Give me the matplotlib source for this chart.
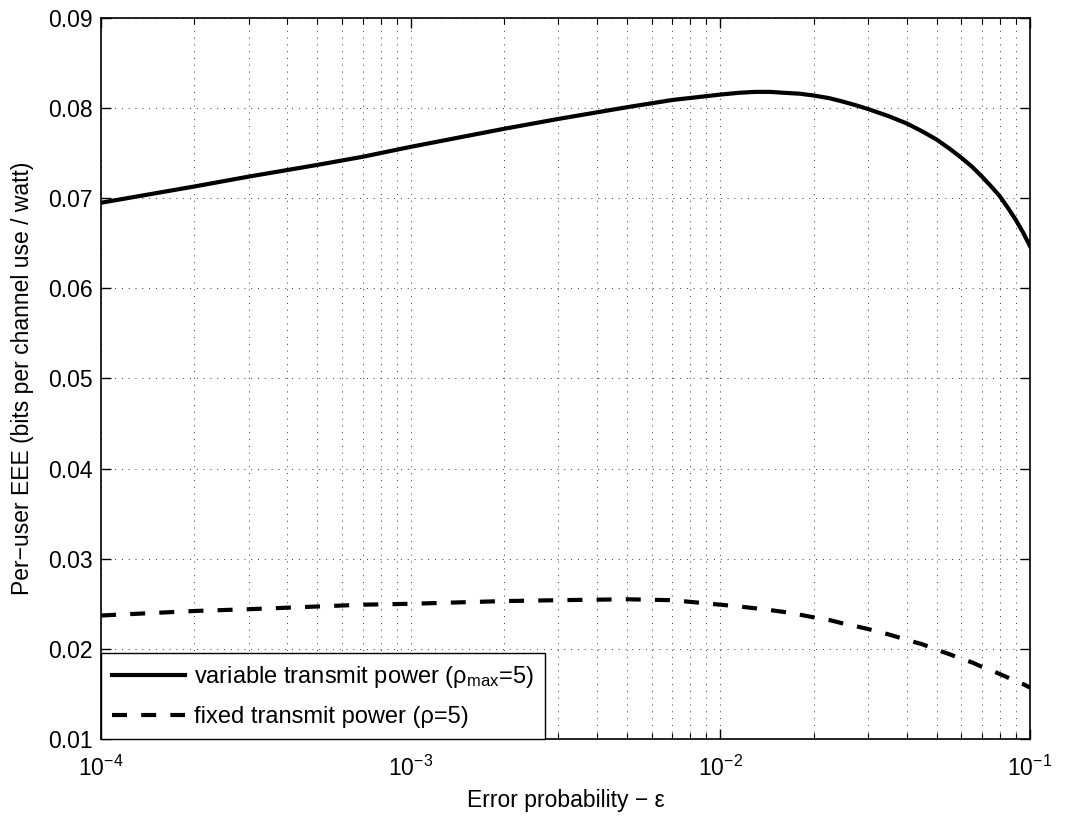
import numpy as np
import matplotlib
matplotlib.use('Agg')
import matplotlib.pyplot as plt
from matplotlib.ticker import LogLocator, FixedLocator, FuncFormatter, NullFormatter

plt.rcParams['font.family'] = ['Liberation Sans', 'DejaVu Sans']
plt.rcParams['mathtext.fontset'] = 'custom'
plt.rcParams['mathtext.rm'] = 'Liberation Sans'
plt.rcParams['mathtext.it'] = 'Liberation Sans:italic'

# error probability (x) and per-user EEE
eps = [1e-4, 2e-4, 3e-4, 5e-4, 7e-4, 1e-3, 2e-3, 3e-3, 5e-3, 7e-3, 1e-2, 1.15e-2,
       1.3e-2, 1.45e-2, 1.6e-2, 1.8e-2, 2e-2, 2.25e-2, 2.5e-2, 2.75e-2, 3e-2, 3.5e-2,
       4e-2, 4.5e-2, 5e-2, 5.5e-2, 6e-2, 6.5e-2, 7e-2, 7.5e-2, 8e-2, 8.5e-2, 9e-2,
       9.5e-2, 1e-1]
eee_variable = [0.0695, 0.0713, 0.0724, 0.0737, 0.0746, 0.0757, 0.0777, 0.0788, 0.0801,
                0.0809, 0.0815, 0.0817, 0.0818, 0.0818, 0.0817, 0.0816, 0.0814, 0.0811,
                0.0807, 0.0803, 0.0799, 0.0791, 0.0783, 0.0774, 0.0765, 0.0755, 0.0745,
                0.0735, 0.0724, 0.0713, 0.0702, 0.0689, 0.0676, 0.0662, 0.0647]
eee_fixed = [0.0237, 0.0242, 0.0244, 0.0247, 0.0249, 0.0250, 0.0253, 0.0254, 0.0255,
             0.0254, 0.0249, 0.0247, 0.0245, 0.0243, 0.0241, 0.0238, 0.0235, 0.0232,
             0.0228, 0.0225, 0.0222, 0.0216, 0.0210, 0.0205, 0.0199, 0.0194, 0.0189,
             0.0185, 0.0180, 0.0176, 0.0172, 0.0168, 0.0164, 0.0161, 0.0157]

labels = ['variable transmit power (ρ$_{\\mathrm{max}}$=5)',
          'fixed transmit power (ρ=5)']
yticks = [0.01, 0.02, 0.03, 0.04, 0.05, 0.06, 0.07, 0.08, 0.09]

fs = 16.5
fig = plt.figure(figsize=(10.76, 8.17), dpi=100)
ax = fig.add_axes([0.0939, 0.0955, 0.8633, 0.8825])

ax.plot(eps, eee_variable, color='black', lw=3, label=labels[0], zorder=3)
ax.plot(eps, eee_fixed, color='black', lw=3, linestyle=(0, (3.6, 3.4)),
        label=labels[1], zorder=3)

ax.set_xscale('log')
ax.set_xlim(1e-4, 1e-1)
ax.set_ylim(0.01, 0.09)
ax.yaxis.set_major_locator(FixedLocator(yticks))
ax.yaxis.set_major_formatter(FuncFormatter(lambda v, p: '%.2f' % v))
ax.xaxis.set_major_locator(LogLocator(base=10))
ax.xaxis.set_minor_locator(LogLocator(base=10, subs=np.arange(2, 10)))
ax.xaxis.set_minor_formatter(NullFormatter())
ax.xaxis.set_major_formatter(FuncFormatter(lambda v, p: '10$^{%d}$' % round(np.log10(v))))

ax.tick_params(which='both', direction='in', top=True, right=True, labelsize=fs)
ax.tick_params(which='major', length=7, width=1)
ax.tick_params(which='minor', length=4, width=0.8)
ax.tick_params(axis='x', which='major', pad=12)
ax.tick_params(axis='y', which='major', pad=6)

ax.grid(True, which='major', axis='both', color='#333333', lw=0.7, linestyle=(0, (1, 6)))
ax.grid(True, which='minor', axis='x', color='#333333', lw=0.7, linestyle=(0, (1, 6)))
for s in ax.spines.values():
    s.set_linewidth(1.2)

ax.set_xlabel('Error probability − ε', fontsize=fs, labelpad=6)
ax.set_ylabel('Per−user EEE (bits per channel use / watt)', fontsize=fs, labelpad=10)

leg = ax.legend(loc='lower left', borderaxespad=0, fontsize=17, fancybox=False,
                framealpha=1, edgecolor='black', handlelength=3.1, handletextpad=0.4,
                labelspacing=0.7, borderpad=0.45)
leg.get_frame().set_linewidth(1.0)

fig.savefig('out.png', dpi=100)
